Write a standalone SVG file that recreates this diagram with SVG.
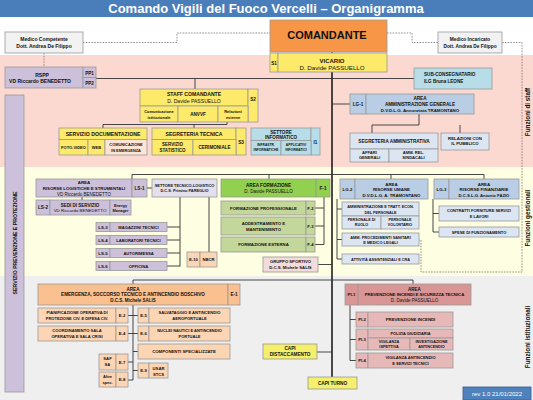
<svg xmlns="http://www.w3.org/2000/svg" width="533" height="400" viewBox="0 0 533 400">
<style>
.t{font-family:"Liberation Sans",Arial,Helvetica,sans-serif;font-weight:bold;text-anchor:middle;fill:#111}
.n{font-weight:normal}
.w{fill:#fff}
.st{text-anchor:start}
.b{stroke:#9a9a9a;stroke-width:0.8}
.ln{fill:none;stroke:#333;stroke-width:0.9}
.mn{fill:none;stroke:#000;stroke-width:1.4}
.ds{fill:none;stroke:#666;stroke-width:0.7;stroke-dasharray:1.6 1.2}
.y{fill:#fde96a}.lv{fill:#ccc0da}.lvl{fill:#e4dfec}.aq{fill:#b7dee8}.bl{fill:#b9cde5}.bll{fill:#dce6f2}
.g{fill:#92d050}.gl{fill:#c4d79b}.p{fill:#fac090}.pl{fill:#fcd5b4}.r{fill:#e6b9b8}.rl{fill:#f2dcdb}.gr{fill:#f2f2f2}.cy{fill:#f4ef6c}
</style>
<g id="bands">
<rect x="0" y="17" width="533" height="38" fill="#ffffff"/>
<rect x="0" y="55" width="533" height="112" fill="#fbd9d0"/>
<rect x="0" y="167" width="533" height="109" fill="#fefee2"/>
<rect x="0" y="276" width="533" height="124" fill="#efefef"/>
</g>
<g id="title">
<rect x="0" y="0" width="533" height="17" fill="#4a7ebb"/>
<text x="266" y="13" class="t w" font-size="13">Comando Vigili del Fuoco Vercelli – Organigramma</text>
</g>
<g id="side-labels">
<text class="t" font-size="6.3" transform="translate(530,112) rotate(-90)">Funzioni di staff</text>
<text class="t" font-size="6.3" transform="translate(530,218) rotate(-90)">Funzioni gestionali</text>
<text class="t" font-size="6.3" transform="translate(530,337) rotate(-90)">Funzioni istituzionali</text>
</g>
<g id="connectors">
<path class="ds" d="M83 42.5H177V33H270"/>
<path class="ds" d="M387 33H412V42.5H438"/>
<path class="ds" d="M44 53V67"/>
<path class="ds" d="M502 42.5H522V272H421V240H418"/>
<path class="mn" d="M332 52V377"/>
<path class="ln" d="M96 78.5H414"/>
<path class="ln" d="M195 78.5V89"/>
<path class="ln" d="M227 122V124.5H103V128M194 124.5V128"/>
<path class="ln" d="M332 104H350"/>
<path class="ln" d="M419 114V125H372V133M460 125V133"/>
<path class="ln" d="M132 174.5H484V179M132 174.5V179M269 174.5V179M391 174.5V179"/>
<path class="ln" d="M147 188H152"/>
<path class="ln" d="M82 197V200"/>
<path class="ln" d="M180 197V266.5M167 227H180M167 240H180M167 253H180M167 266H180"/>
<path class="ln" d="M209 197V252"/>
<path class="ln" d="M324 197V244.5M315 208H324M315 226H324M315 244.5H324"/>
<path class="ln" d="M318 264.5H332"/>
<path class="ln" d="M337 199V259M337 209H342M337 239.5H342M337 259H342"/>
<path class="ln" d="M433 199V232M433 213.5H439M433 232H439"/>
<path class="ln" d="M133 280H413V284M133 280V284"/>
<path class="ln" d="M133 305V380M128 315.5H138M128 333.5H138M133 351.5H138M128 362H133M133 370.5H138M128 380H133"/>
<path class="ln" d="M350 305V360.5M350 319.5H356M350 339.5H356M350 360.5H356"/>
<path class="ln" d="M317 352H332"/>
</g>
<g id="medico-competente">
<rect x="5" y="32" width="78" height="21" class="gr b"/>
<text x="44" y="41" class="t" font-size="5">Medico Competente</text>
<text x="44" y="47.5" class="t" font-size="5">Dott. Andrea De Filippo</text>
</g>
<g id="medico-incaricato">
<rect x="438" y="32" width="64" height="21" class="gr b"/>
<text x="470" y="41" class="t" font-size="4.8">Medico Incaricato</text>
<text x="470" y="47.5" class="t" font-size="4.8">Dott. Andrea De Filippo</text>
</g>
<g id="comandante">
<rect x="270" y="20" width="117" height="32" fill="#f79646" class="b"/>
<text x="327" y="38.5" class="t" font-size="11">COMANDANTE</text>
</g>
<g id="vicario">
<rect x="270" y="53" width="8" height="19" class="y b"/>
<rect x="278" y="53" width="109" height="19" class="y b"/>
<text x="274" y="64.5" class="t" font-size="4.6">S1</text>
<text x="332" y="62.5" class="t" font-size="6">VICARIO</text>
<text x="332" y="69.5" class="t n" font-size="6.2">D. Davide PASSUELLO</text>
</g>
<g id="rspp">
<rect x="5" y="67" width="78" height="21" class="lv b"/>
<rect x="83" y="67" width="13" height="10.5" class="lv b"/>
<rect x="83" y="77.5" width="13" height="10.5" class="lv b"/>
<text x="42" y="76.5" class="t" font-size="5">RSPP</text>
<text x="40" y="83" class="t" font-size="5">VD Riccardo BENEDETTO</text>
<text x="89.5" y="74.5" class="t" font-size="4.6">PP1</text>
<text x="89.5" y="85" class="t" font-size="4.6">PP2</text>
</g>
<g id="servizio-prevenzione">
<rect x="5" y="95" width="19" height="297" class="lv b"/>
<text class="t" font-size="5.2" transform="translate(16.5,243) rotate(-90)">SERVIZIO PREVENZIONE E PROTEZIONE</text>
</g>
<g id="sub-consegnatario">
<rect x="414" y="68" width="78" height="21" class="aq b"/>
<text x="424" y="76" class="t st" font-size="4.6">SUB-CONSEGNATARIO</text>
<text x="424" y="82.5" class="t st" font-size="4.6">ILG Bruna LEONE</text>
</g>
<g id="staff-comandante">
<rect x="140" y="89" width="108" height="17" class="y b"/>
<rect x="248" y="89" width="10" height="33" class="y b"/>
<rect x="140" y="106" width="38" height="16" class="y b"/>
<rect x="178" y="106" width="40" height="16" class="y b"/>
<rect x="218" y="106" width="30" height="16" class="y b"/>
<text x="194" y="96" class="t" font-size="5.1">STAFF COMANDANTE</text>
<text x="194" y="102.5" class="t n" font-size="5.1">D. Davide PASSUELLO</text>
<text x="253" y="101" class="t" font-size="4.6">S2</text>
<text x="159" y="113" class="t" font-size="4">Comunicazione</text>
<text x="159" y="118.5" class="t" font-size="4">istituzionale</text>
<text x="198" y="115.5" class="t" font-size="4.6">ANVVF</text>
<text x="233" y="113" class="t" font-size="4">Relazioni</text>
<text x="233" y="118.5" class="t" font-size="4">esterne</text>
</g>
<g id="servizio-documentazione">
<rect x="59" y="128" width="88" height="11.5" class="y b"/>
<rect x="59" y="139.5" width="29" height="15.5" class="y b"/>
<rect x="88" y="139.5" width="17" height="15.5" class="y b"/>
<rect x="105" y="139.5" width="42" height="15.5" fill="#fce4d6" class="b"/>
<text x="103" y="135.8" class="t" font-size="5.2">SERVIZIO DOCUMENTAZIONE</text>
<text x="73.5" y="148.8" class="t" font-size="4">FOTO-VIDEO</text>
<text x="96.5" y="148.8" class="t" font-size="4">WEB</text>
<text x="126" y="146" class="t" font-size="3.9">COMUNICAZIONE</text>
<text x="126" y="151.5" class="t" font-size="3.9">IN EMERGENZA</text>
</g>
<g id="segreteria-tecnica">
<rect x="152" y="128" width="84" height="11.5" class="y b"/>
<rect x="236" y="128" width="10" height="27" class="y b"/>
<rect x="152" y="139.5" width="41" height="15.5" class="y b"/>
<rect x="193" y="139.5" width="43" height="15.5" class="y b"/>
<text x="194" y="135.8" class="t" font-size="5.1">SEGRETERIA TECNICA</text>
<text x="241" y="143.5" class="t" font-size="4.6">S3</text>
<text x="172.5" y="146" class="t" font-size="4.5">SERVIZIO</text>
<text x="172.5" y="152" class="t" font-size="4.5">STATISTICO</text>
<text x="214.5" y="149" class="t" font-size="4.6">CERIMONIALE</text>
</g>
<g id="settore-informatico">
<rect x="251" y="128" width="60" height="12.5" class="aq b"/>
<rect x="311" y="128" width="9" height="27" class="aq b"/>
<rect x="251" y="140.5" width="30" height="14.5" class="aq b"/>
<rect x="281" y="140.5" width="30" height="14.5" class="aq b"/>
<text x="281" y="133.5" class="t" font-size="4.6">SETTORE</text>
<text x="281" y="139" class="t" font-size="4.6">INFORMATICO</text>
<text x="315.5" y="143.5" class="t" font-size="4.6">I1</text>
<text x="266" y="145.5" class="t" font-size="3.3">INFRASTR.</text>
<text x="266" y="150.5" class="t" font-size="3.3">INFORMATICHE</text>
<text x="296" y="145.5" class="t" font-size="3.3">APPLICATIVI</text>
<text x="296" y="150.5" class="t" font-size="3.3">INFORMATICI</text>
</g>
<g id="area-amministrazione-generale">
<rect x="350" y="94" width="16" height="20" class="bl b"/>
<rect x="366" y="94" width="108" height="20" class="bl b"/>
<text x="358" y="105.5" class="t" font-size="4.6">LG-1</text>
<text x="420" y="100.3" class="t" font-size="4.6">AREA</text>
<text x="420" y="106.3" class="t" font-size="4.6">AMMINISTRAZIONE  GENERALE</text>
<text x="420" y="112" class="t" font-size="4.4">D.V.D.L.G. Annunziata TRAMONTANO</text>
</g>
<g id="segreteria-amministrativa">
<rect x="350" y="133" width="88" height="16" class="bll b"/>
<rect x="350" y="149" width="39" height="13" class="bll b"/>
<rect x="389" y="149" width="49" height="13" class="bll b"/>
<text x="394" y="143.2" class="t" font-size="4.7">SEGRETERIA AMMINISTRATIVA</text>
<text x="369.5" y="154.3" class="t" font-size="4.1">AFFARI</text>
<text x="369.5" y="159.3" class="t" font-size="4.1">GENERALI</text>
<text x="413.5" y="154.3" class="t" font-size="4.1">AMM. REL.</text>
<text x="413.5" y="159.3" class="t" font-size="4.1">SINDACALI</text>
</g>
<g id="relazioni-pubblico">
<rect x="441" y="133" width="48" height="17" class="bll b"/>
<text x="465" y="139.7" class="t" font-size="4.3">RELAZIONI CON</text>
<text x="465" y="145.2" class="t" font-size="4.3">IL PUBBLICO</text>
</g>
<g id="area-risorse-logistiche">
<rect x="36" y="179" width="96" height="18" class="lv b"/>
<rect x="132" y="179" width="15" height="18" class="lv b"/>
<text x="84" y="183.5" class="t" font-size="4.4">AREA</text>
<text x="84" y="189.5" class="t" font-size="4.3">RISORSE LOGISTICHE E STRUMENTALI</text>
<text x="84" y="195.6" class="t n" font-size="4.5">VD Riccardo BENEDETTO</text>
<text x="139.5" y="189.8" class="t" font-size="4.6">LS-1</text>
</g>
<g id="settore-tecnico-logistico">
<rect x="152" y="179" width="65" height="18" class="lvl b"/>
<text x="184.5" y="186.5" class="t" font-size="3.9">SETTORE TECNICO-LOGISTICO</text>
<text x="184.5" y="192.3" class="t" font-size="3.9">D.C.S. Primino PAREGLIO</text>
</g>
<g id="sedi-servizio">
<rect x="36" y="200" width="14" height="15" class="lv b"/>
<rect x="50" y="200" width="60" height="15" class="lv b"/>
<rect x="110" y="200" width="21" height="15" class="lv b"/>
<text x="43" y="209.2" class="t" font-size="4.6">LS-2</text>
<text x="80" y="206.5" class="t" font-size="4.5">SEDI DI SERVIZIO</text>
<text x="80" y="212.4" class="t n" font-size="4.4">VD Riccardo BENEDETTO</text>
<text x="120.5" y="206.5" class="t" font-size="3.9">Energy</text>
<text x="120.5" y="212.4" class="t" font-size="3.9">Manager</text>
</g>
<g id="ls3">
<rect x="96" y="222.5" width="14" height="9" class="lv b"/>
<rect x="110" y="222.5" width="57" height="9" class="lv b"/>
<text x="103" y="228.6" class="t" font-size="4.3">LS-3</text>
<text x="138.5" y="228.6" class="t" font-size="4.1">MAGAZZINI TECNICI</text>
</g>
<g id="ls4">
<rect x="96" y="235.5" width="14" height="9" class="lv b"/>
<rect x="110" y="235.5" width="57" height="9" class="lv b"/>
<text x="103" y="241.6" class="t" font-size="4.3">LS-4</text>
<text x="138.5" y="241.6" class="t" font-size="4.1">LABORATORI TECNICI</text>
</g>
<g id="ls5">
<rect x="96" y="248.5" width="14" height="9" class="lv b"/>
<rect x="110" y="248.5" width="57" height="9" class="lv b"/>
<text x="103" y="254.6" class="t" font-size="4.3">LS-5</text>
<text x="138.5" y="254.6" class="t" font-size="4.1">AUTORIMESSA</text>
</g>
<g id="ls6">
<rect x="96" y="261.5" width="14" height="9" class="lv b"/>
<rect x="110" y="261.5" width="57" height="9" class="lv b"/>
<text x="103" y="267.6" class="t" font-size="4.3">LS-6</text>
<text x="138.5" y="267.6" class="t" font-size="4.1">OFFICINA</text>
</g>
<g id="e10-nbcr">
<rect x="187" y="252" width="13" height="15" class="pl b"/>
<rect x="200" y="252" width="17" height="15" class="pl b"/>
<text x="193.5" y="261" class="t" font-size="4.2">E-10</text>
<text x="208.5" y="261" class="t" font-size="4.2">NBCR</text>
</g>
<g id="area-formazione">
<rect x="221" y="179" width="95" height="18" class="g b"/>
<rect x="316" y="179" width="14" height="18" class="g b"/>
<text x="268.5" y="186.7" class="t" font-size="4.6">AREA FORMAZIONE</text>
<text x="268.5" y="192.5" class="t n" font-size="4.6">D. Davide PASSUELLO</text>
<text x="323" y="189.5" class="t" font-size="4.6">F-1</text>
</g>
<g id="f2">
<rect x="221" y="201" width="85" height="14" class="gl b"/>
<rect x="306" y="201" width="9" height="14" class="gl b"/>
<text x="263.5" y="209.5" class="t" font-size="4.3">FORMAZIONE PROFESSIONALE</text>
<text x="310.5" y="209.5" class="t" font-size="4.2">F-2</text>
</g>
<g id="f3">
<rect x="221" y="217" width="85" height="18" class="gl b"/>
<rect x="306" y="217" width="9" height="18" class="gl b"/>
<text x="263.5" y="224.8" class="t" font-size="4.3">ADDESTRAMENTO E</text>
<text x="263.5" y="230.5" class="t" font-size="4.3">MANTENIMENTO</text>
<text x="310.5" y="227.5" class="t" font-size="4.2">F-3</text>
</g>
<g id="f4">
<rect x="221" y="237" width="85" height="15" class="gl b"/>
<rect x="306" y="237" width="9" height="15" class="gl b"/>
<text x="263.5" y="246.2" class="t" font-size="4.3">FORMAZIONE ESTERNA</text>
<text x="310.5" y="246.2" class="t" font-size="4.2">F-4</text>
</g>
<g id="gruppo-sportivo">
<rect x="263" y="257" width="55" height="15" class="rl b"/>
<text x="290.5" y="263.2" class="t" font-size="4.2">GRUPPO SPORTIVO</text>
<text x="290.5" y="269" class="t" font-size="4.2">D.C.S. Michele SALIS</text>
</g>
<g id="area-risorse-umane">
<rect x="340" y="179" width="15" height="20" class="bl b"/>
<rect x="355" y="179" width="73" height="20" class="bl b"/>
<text x="347.5" y="190.5" class="t" font-size="4.3">LG-2</text>
<text x="391.5" y="185.5" class="t" font-size="4.4">AREA</text>
<text x="391.5" y="191" class="t" font-size="4.4">RISORSE UMANE</text>
<text x="391.5" y="196.6" class="t" font-size="4.3">D.V.D.L.G. A. TRAMONTANO</text>
</g>
<g id="amministrazione-personale">
<rect x="342" y="202" width="77" height="14" class="bll b"/>
<rect x="342" y="216" width="39" height="13" class="bll b"/>
<rect x="381" y="216" width="38" height="13" class="bll b"/>
<text x="380.5" y="208" class="t" font-size="3.8">AMMINISTRAZIONE  E TRATT. ECON.</text>
<text x="380.5" y="213.8" class="t" font-size="3.8">DEL PERSONALE</text>
<text x="361.5" y="221" class="t" font-size="3.7">PERSONALE DI</text>
<text x="361.5" y="226.3" class="t" font-size="3.7">RUOLO</text>
<text x="400" y="221" class="t" font-size="3.7">PERSONALE</text>
<text x="400" y="226.3" class="t" font-size="3.7">VOLONTARIO</text>
</g>
<g id="procedimenti-sanitari">
<rect x="342" y="233" width="77" height="13" class="bll b"/>
<text x="380.5" y="238.5" class="t" font-size="3.9">AMM. PROCEDIMENTI SANITARI</text>
<text x="380.5" y="244" class="t" font-size="3.9">E MEDICO LEGALI</text>
</g>
<g id="attivita-assistenziali">
<rect x="342" y="254" width="77" height="10" class="bll b"/>
<text x="380.5" y="260.6" class="t" font-size="3.8">ATTIVITÀ ASSISTENZIALI E CRA</text>
</g>
<g id="area-risorse-finanziarie">
<rect x="434" y="179" width="15" height="20" class="bl b"/>
<rect x="449" y="179" width="70" height="20" class="bl b"/>
<text x="441.5" y="190.5" class="t" font-size="4.3">LG-3</text>
<text x="484" y="185.5" class="t" font-size="4.4">AREA</text>
<text x="484" y="191" class="t" font-size="4.4">RISORSE FINANZIARIE</text>
<text x="484" y="196.6" class="t" font-size="4.2">D.C.S.L.G. Antonio FAZIO</text>
</g>
<g id="contratti-forniture">
<rect x="439" y="206" width="80" height="15" class="bll b"/>
<text x="479" y="212.3" class="t" font-size="4">CONTRATTI FORNITURE SERVIZI</text>
<text x="479" y="217.8" class="t" font-size="4">E LAVORI</text>
</g>
<g id="spese-funzionamento">
<rect x="439" y="227" width="80" height="10" class="bll b"/>
<text x="479" y="233.5" class="t" font-size="4">SPESE DI FUNZIONAMENTO</text>
</g>
<g id="area-emergenza">
<rect x="38" y="284" width="190" height="21" class="p b"/>
<rect x="228" y="284" width="12" height="21" class="p b"/>
<text x="133" y="290.6" class="t" font-size="4.6">AREA</text>
<text x="133" y="296" class="t" font-size="4.6">EMERGENZA, SOCCORSO TECNICO E ANTINCENDIO BOSCHIVO</text>
<text x="133" y="301.6" class="t" font-size="4.5">D.C.S. Michele SALIS</text>
<text x="234" y="296.2" class="t" font-size="4.6">E-1</text>
</g>
<g id="e2">
<rect x="38" y="308" width="78" height="15" class="pl b"/>
<rect x="116" y="308" width="12" height="15" class="pl b"/>
<text x="77" y="314" class="t" font-size="4">PIANIFICAZIONE  OPERATIVA DI</text>
<text x="77" y="319.8" class="t" font-size="4">PROTEZIONE CIV. E DIFESA CIV.</text>
<text x="122" y="317" class="t" font-size="4.3">E-2</text>
</g>
<g id="e4">
<rect x="38" y="326" width="78" height="15" class="pl b"/>
<rect x="116" y="326" width="12" height="15" class="pl b"/>
<text x="77" y="332.2" class="t" font-size="4.1">COORDINAMENTO SALA</text>
<text x="77" y="337.8" class="t" font-size="4.1">OPERATIVA E SALA CRISI</text>
<text x="122" y="335" class="t" font-size="4.3">E-4</text>
</g>
<g id="e7">
<rect x="99" y="354" width="17" height="16" class="pl b"/>
<rect x="116" y="354" width="12" height="16" class="pl b"/>
<text x="107.5" y="360" class="t" font-size="4.2">SAF</text>
<text x="107.5" y="366" class="t" font-size="4.2">SA</text>
<text x="122" y="363.5" class="t" font-size="4.3">E-7</text>
</g>
<g id="e8">
<rect x="99" y="372" width="17" height="15" class="pl b"/>
<rect x="116" y="372" width="12" height="15" class="pl b"/>
<text x="107.5" y="378" class="t" font-size="4">Altre</text>
<text x="107.5" y="384" class="t" font-size="4">spec.</text>
<text x="122" y="381.3" class="t" font-size="4.3">E-8</text>
</g>
<g id="e5">
<rect x="138" y="308" width="11" height="15" class="pl b"/>
<rect x="149" y="308" width="81" height="15" class="pl b"/>
<text x="143.5" y="317" class="t" font-size="4.3">E-5</text>
<text x="189.5" y="314" class="t" font-size="4.1">SALVATAGGIO E ANTINCENDIO</text>
<text x="189.5" y="319.8" class="t" font-size="4.1">AEROPORTUALE</text>
</g>
<g id="e6">
<rect x="138" y="326" width="11" height="15" class="pl b"/>
<rect x="149" y="326" width="81" height="15" class="pl b"/>
<text x="143.5" y="335" class="t" font-size="4.3">E-6</text>
<text x="189.5" y="332.2" class="t" font-size="4">NUCLEI NAUTICI E ANTINCENDIO</text>
<text x="189.5" y="337.8" class="t" font-size="4">PORTUALE</text>
</g>
<g id="componenti-specializzate">
<rect x="138" y="344" width="92" height="15" class="pl b"/>
<text x="184" y="353" class="t" font-size="4.3">COMPONENTI SPECIALIZZATE</text>
</g>
<g id="e9">
<rect x="138" y="363" width="11" height="15" class="pl b"/>
<rect x="149" y="363" width="19" height="15" class="pl b"/>
<text x="143.5" y="372" class="t" font-size="4.3">E-9</text>
<text x="158.5" y="369.5" class="t" font-size="4.2">USAR</text>
<text x="158.5" y="375.5" class="t" font-size="4.2">STCS</text>
</g>
<g id="area-prevenzione">
<rect x="345" y="284" width="13" height="21" class="r b" style="fill:#d99694"/>
<rect x="358" y="284" width="113" height="21" class="b" fill="#d99694"/>
<text x="351.5" y="296.2" class="t" font-size="4.4">PI-1</text>
<text x="414.5" y="290.6" class="t" font-size="4.5">AREA</text>
<text x="414.5" y="296" class="t" font-size="4.3">PREVENZIONE INCENDI E SICUREZZA TECNICA</text>
<text x="414.5" y="301.6" class="t n" font-size="4.5">D. Davide PASSUELLO</text>
</g>
<g id="pi2">
<rect x="356" y="312" width="12" height="15" class="r b"/>
<rect x="368" y="312" width="85" height="15" class="r b"/>
<text x="362" y="321" class="t" font-size="4.2">PI-2</text>
<text x="410.5" y="321" class="t" font-size="4.3">PREVENZIONE INCENDI</text>
</g>
<g id="pi3">
<rect x="356" y="329" width="12" height="21" class="r b"/>
<rect x="368" y="329" width="85" height="9" class="r b"/>
<rect x="368" y="338" width="42" height="12" class="r b"/>
<rect x="410" y="338" width="43" height="12" class="r b"/>
<text x="362" y="341" class="t" font-size="4.2">PI-3</text>
<text x="410.5" y="335" class="t" font-size="3.9">POLIZIA GIUDIZIARIA</text>
<text x="389" y="342.5" class="t" font-size="3.8">VIGILANZA</text>
<text x="389" y="347.8" class="t" font-size="3.8">ISPETTIVA</text>
<text x="431.5" y="342.5" class="t" font-size="3.8">INVESTIGAZIONE</text>
<text x="431.5" y="347.8" class="t" font-size="3.8">ANTINCENDIO</text>
</g>
<g id="pi4">
<rect x="356" y="353" width="12" height="15" class="r b"/>
<rect x="368" y="353" width="85" height="15" class="r b"/>
<text x="362" y="362" class="t" font-size="4.2">PI-4</text>
<text x="410.5" y="359" class="t" font-size="4">VIGILANZA ANTINCENDIO</text>
<text x="410.5" y="365" class="t" font-size="4">E SERVIZI TECNICI</text>
</g>
<g id="capi-distaccamento">
<rect x="263" y="344" width="54" height="15" class="cy b"/>
<text x="290" y="350" class="t" font-size="4.7">CAPI</text>
<text x="290" y="356.3" class="t" font-size="4.7">DISTACCAMENTO</text>
</g>
<g id="capi-turno">
<rect x="308" y="377" width="49" height="12" class="cy b"/>
<text x="332.5" y="385" class="t" font-size="4.7">CAPI TURNO</text>
</g>
<g id="revision">
<rect x="463" y="387" width="68" height="13" fill="#4f81bd" stroke="#385d8a" stroke-width="0.8"/>
<text x="497" y="396" class="t n w" font-size="6">rev 1.0 21/01/2022</text>
</g>
</svg>
